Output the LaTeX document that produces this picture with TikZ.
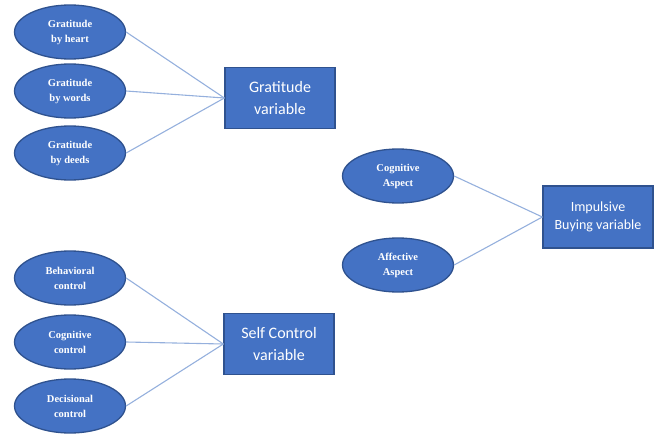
\documentclass[tikz,border=0pt]{standalone}
\usepackage{fontspec}
\setmainfont{Liberation Serif}
\newfontfamily\boxfont{Carlito}
\usetikzlibrary{shapes.geometric}
\definecolor{fillblue}{HTML}{4472C4}
\definecolor{edgeblue}{HTML}{2F528F}
\definecolor{linkblue}{HTML}{95B0DD}
\tikzset{
  dimnode/.style={ellipse, draw=edgeblue, line width=1.3pt, fill=fillblue, text=white,
    minimum width=111pt, minimum height=54pt, inner sep=0pt, align=center,
    font=\bfseries\fontsize{10.5}{15}\selectfont},
  varbox/.style={rectangle, draw=edgeblue, line width=1.3pt, fill=fillblue, text=white,
    minimum width=110pt, minimum height=61pt, inner sep=0pt, align=center},
  link/.style={draw=linkblue, line width=1.1pt}
}
\begin{document}
\begin{tikzpicture}[x=1pt,y=-1pt]
\useasboundingbox (0,0) rectangle (659,434);
% Gratitude group
\node[dimnode] (gh) at (70,32) {Gratitude\\by heart};
\node[dimnode] (gw) at (70,91) {Gratitude\\by words};
\node[dimnode] (gd) at (70,153) {Gratitude\\by deeds};
\node[varbox, font=\boxfont\fontsize{16}{22}\selectfont] (gv) at (280,98) {Gratitude\\variable};
% Impulsive group
\node[dimnode] (ca) at (398,176) {Cognitive\\Aspect};
\node[dimnode] (aa) at (398,265) {Affective\\Aspect};
\node[varbox, minimum height=62pt, font=\boxfont\fontsize{14}{18}\selectfont] (ib) at (598,217) {Impulsive\\Buying variable};
% Self control group
\node[dimnode] (bc) at (70,278) {Behavioral\\control};
\node[dimnode] (cc) at (70,342) {Cognitive\\control};
\node[dimnode] (dc) at (70,406) {Decisional\\control};
\node[varbox, font=\boxfont\fontsize{16}{22}\selectfont] (sc) at (279,344) {Self Control\\variable};
% links
\foreach \e in {gh,gw,gd} \draw[link] (\e.east) -- (gv.west);
\foreach \e in {ca,aa} \draw[link] (\e.east) -- (ib.west);
\foreach \e in {bc,cc,dc} \draw[link] (\e.east) -- (sc.west);
\end{tikzpicture}
\end{document}
